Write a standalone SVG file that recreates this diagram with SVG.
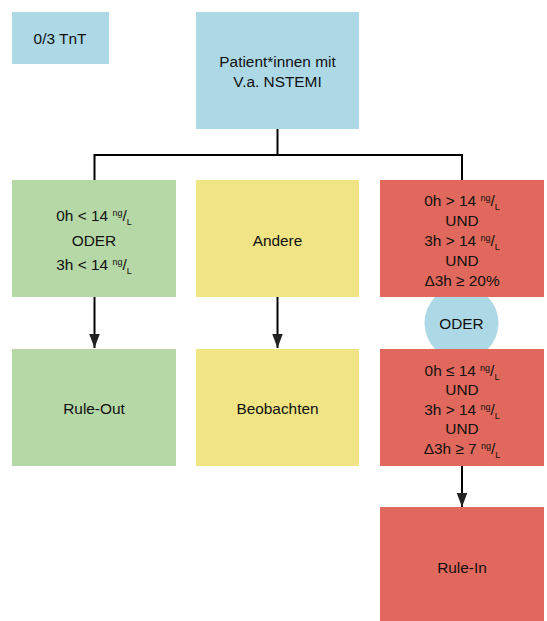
<svg xmlns="http://www.w3.org/2000/svg" width="547" height="621" viewBox="0 0 547 621">
<defs>
<style>
text{font-family:"Liberation Sans",Arial,sans-serif;font-size:15.4px;fill:#111;text-anchor:middle}
.s{font-size:9px}
.blue{fill:#add8e6}
.green{fill:#b6d7a6}
.yellow{fill:#f0e484}
.red{fill:#e0685c}
.ln{stroke:#000;stroke-width:2;fill:none}
</style>
<marker id="ah" markerUnits="userSpaceOnUse" markerWidth="14" markerHeight="18" refX="16" refY="6" viewBox="0 0 16 12" orient="auto">
<path d="M0,0 L16,6 L0,12 Z" fill="#222"/>
</marker>
</defs>
<g id="oder">
<circle cx="461.5" cy="323" r="37" class="blue"/>
<text x="461.5" y="328.5">ODER</text>
</g>
<g id="tnt">
<rect x="12" y="12" width="97" height="52" class="blue"/>
<text x="60" y="44">0/3 TnT</text>
</g>
<g id="patient">
<rect x="196" y="12" width="163" height="117" class="blue"/>
<text x="277.5" y="67">Patient*innen mit</text>
<text x="277.5" y="86.5">V.a. NSTEMI</text>
</g>
<g id="low">
<rect x="12" y="180" width="164" height="117" class="green"/>
<text x="94" y="221">0h &lt; 14 <tspan class="s" dy="-5">ng</tspan><tspan dy="5">/</tspan><tspan class="s" dy="4">L</tspan></text>
<text x="94" y="245.5">ODER</text>
<text x="94" y="270">3h &lt; 14 <tspan class="s" dy="-5">ng</tspan><tspan dy="5">/</tspan><tspan class="s" dy="4">L</tspan></text>
</g>
<g id="andere">
<rect x="196" y="180" width="163" height="117" class="yellow"/>
<text x="277.5" y="245.5">Andere</text>
</g>
<g id="high1">
<rect x="380" y="180" width="164" height="117" class="red"/>
<text x="462" y="205.5">0h &gt; 14 <tspan class="s" dy="-5">ng</tspan><tspan dy="5">/</tspan><tspan class="s" dy="4">L</tspan></text>
<text x="462" y="225.5">UND</text>
<text x="462" y="245.5">3h &gt; 14 <tspan class="s" dy="-5">ng</tspan><tspan dy="5">/</tspan><tspan class="s" dy="4">L</tspan></text>
<text x="462" y="265.5">UND</text>
<text x="462" y="285.5">Δ3h ≥ 20%</text>
</g>
<g id="ruleout">
<rect x="12" y="349" width="164" height="117" class="green"/>
<text x="94" y="413.5">Rule-Out</text>
</g>
<g id="beobachten">
<rect x="196" y="349" width="163" height="117" class="yellow"/>
<text x="277.5" y="413.5">Beobachten</text>
</g>
<g id="high2">
<rect x="380" y="349" width="164" height="117" class="red"/>
<text x="462" y="375.5">0h ≤ 14 <tspan class="s" dy="-5">ng</tspan><tspan dy="5">/</tspan><tspan class="s" dy="4">L</tspan></text>
<text x="462" y="395">UND</text>
<text x="462" y="414.5">3h &gt; 14 <tspan class="s" dy="-5">ng</tspan><tspan dy="5">/</tspan><tspan class="s" dy="4">L</tspan></text>
<text x="462" y="434">UND</text>
<text x="462" y="453.5">Δ3h ≥ 7 <tspan class="s" dy="-5">ng</tspan><tspan dy="5">/</tspan><tspan class="s" dy="4">L</tspan></text>
</g>
<g id="rulein">
<rect x="380" y="507" width="164" height="114" class="red"/>
<text x="462" y="572.5">Rule-In</text>
</g>
<g id="connectors">
<path class="ln" d="M277.5,129 V155 M94.5,180 V155 H462 V180"/>
<line class="ln" x1="94.5" y1="297" x2="94.5" y2="348" marker-end="url(#ah)"/>
<line class="ln" x1="277.5" y1="297" x2="277.5" y2="348" marker-end="url(#ah)"/>
<line class="ln" x1="462" y1="466" x2="462" y2="507" marker-end="url(#ah)"/>
</g>
</svg>
